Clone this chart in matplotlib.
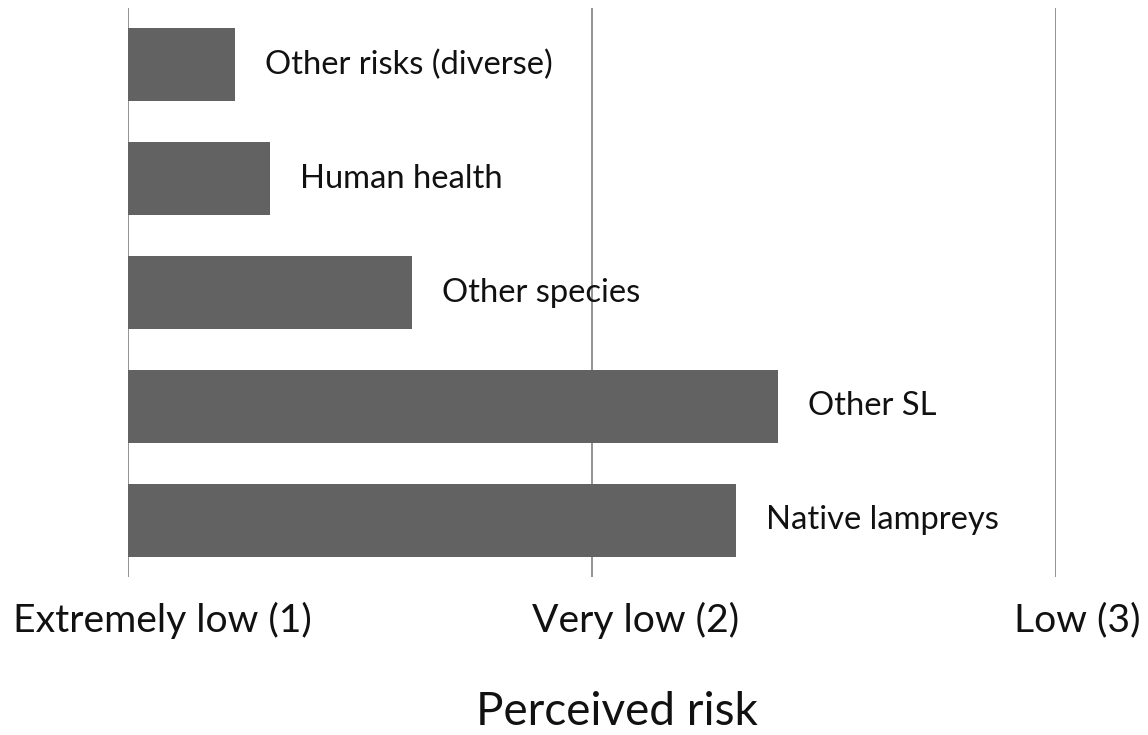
import matplotlib
matplotlib.use("Agg")
import matplotlib.pyplot as plt
from matplotlib.transforms import offset_copy, blended_transform_factory

# Perceived risk per category (1 = extremely low, 3 = low)
categories = ["Other risks (diverse)", "Human health", "Other species", "Other SL", "Native lampreys"]
risk_scores = [1.23, 1.306, 1.612, 2.40, 2.31]
tick_values = [1, 2, 3]
tick_labels = ["Extremely low (1)", "Very low (2)", "Low (3)"]
tick_shift_px = [34, 44, 21]

plt.rcParams["font.family"] = ["Lato", "DejaVu Sans"]

fig = plt.figure(figsize=(11.48, 7.35), dpi=100)
ax = fig.add_axes([128 / 1148, 1 - 577 / 735, (1056 - 128) / 1148, (577 - 8) / 735])

pos = list(range(len(categories)))
ax.barh(pos, [v - 1 for v in risk_scores], left=1, height=0.64, color="#626262", zorder=2)

ax.set_xlim(1, 3)
ax.set_ylim(len(categories) - 0.5, -0.5)

# vertical gridlines at each scale step
for t in tick_values:
    ax.axvline(t, color="#8a8a8a", linewidth=1.3, zorder=1)

for spine in ax.spines.values():
    spine.set_visible(False)
ax.set_xticks([])
ax.set_yticks([])

# category labels just past the end of each bar
for p, v, name in zip(pos, risk_scores, categories):
    tr = offset_copy(ax.transData, fig=fig, x=30, y=0, units="dots")
    ax.text(v, p, name, transform=tr, ha="left", va="center", fontsize=23.6, color="#111111")

# scale labels under the axis
blend = blended_transform_factory(ax.transData, fig.transFigure)
for t, lab, dx in zip(tick_values, tick_labels, tick_shift_px):
    tr = offset_copy(blend, fig=fig, x=dx, y=0, units="dots")
    ax.text(t, 1 - 620 / 735, lab, transform=tr, ha="center", va="center", fontsize=28.2, color="#111111")

fig.text(617 / 1148, 1 - 712 / 735, "Perceived risk", ha="center", va="center", fontsize=33, color="#111111")

fig.savefig("out.png", dpi=100)
